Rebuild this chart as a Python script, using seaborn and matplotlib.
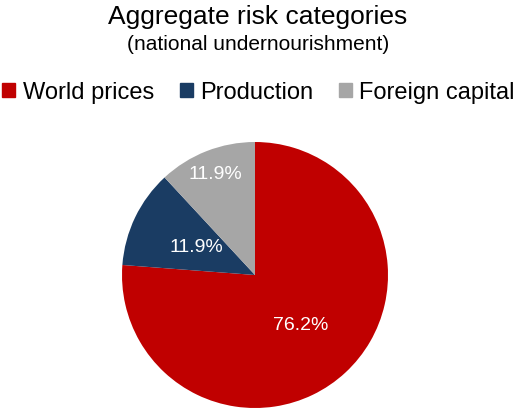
import numpy as np
import matplotlib
matplotlib.use("Agg")
import matplotlib.pyplot as plt
import seaborn as sns

# Risk category shares (percent)
categories = ["World prices", "Production", "Foreign capital"]
shares = [76.2, 11.9, 11.9]
colors = ["#C00000", "#1A3C63", "#A6A6A6"]
# radial position of each percentage label, as fraction of the radius
label_dist = [0.51, 0.49, 0.82]

sns.set_theme(style="white")
plt.rcParams["font.family"] = ["Liberation Sans", "DejaVu Sans"]
plt.rcParams["text.color"] = "black"

W, H = 516, 410
fig = plt.figure(figsize=(W / 100, H / 100), dpi=100)
ax = fig.add_axes([0.0, 0.0, 1.0, 1.0])

cx, cy, r = 255, H - 276, 133
wedges, _ = ax.pie(shares, colors=sns.color_palette(colors), startangle=90,
                   counterclock=False, center=(cx, cy), radius=r,
                   wedgeprops=dict(linewidth=0), frame=True)
ax.set_xlim(0, W)
ax.set_ylim(0, H)
ax.set_aspect("equal")
ax.axis("off")

for w, val, d in zip(wedges, shares, label_dist):
    mid = np.deg2rad((w.theta1 + w.theta2) / 2)
    x = cx + d * r * np.cos(mid)
    y = cy + d * r * np.sin(mid)
    ax.text(x, y, f"{val:.1f}%", color="white", fontsize=14,
            ha="center", va="center")

fig.text(0.5, 1 - 17 / H, "Aggregate risk categories", ha="center",
         va="center", fontsize=19, color="black")
fig.text(0.5, 1 - 45 / H, "(national undernourishment)", ha="center",
         va="center", fontsize=15, color="black")

handles = [plt.Rectangle((0, 0), 1, 1, color=c) for c in colors]
fig.legend(handles, categories, loc="center", bbox_to_anchor=(258.5 / W, 1 - 93 / H),
           ncol=3, frameon=False, fontsize=17, handlelength=0.55,
           handleheight=0.55, handletextpad=0.3, columnspacing=1.1,
           borderpad=0, borderaxespad=0, labelcolor="black")

fig.savefig("out.png", dpi=100)
